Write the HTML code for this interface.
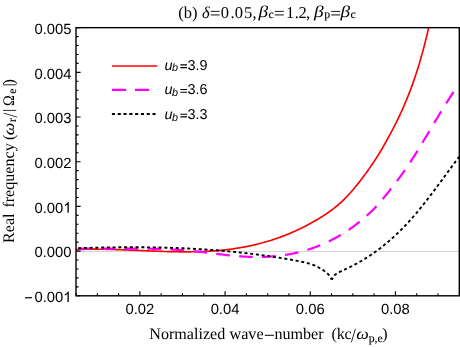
<!DOCTYPE html>
<html><head><meta charset="utf-8"><title>plot</title>
<style>
html,body{margin:0;padding:0;background:#fff;}
svg{display:block;opacity:0.999;will-change:transform;}
text{fill:#000;text-rendering:geometricPrecision;}
.se{font-family:"Liberation Serif", serif;font-size:16.5px;}
.si{font-family:"Liberation Serif", serif;font-size:16.5px;font-style:italic;}
.ss{font-family:"Liberation Serif", serif;font-size:11.8px;stroke:#000;stroke-width:0.12px;}
.sx{font-family:"Liberation Serif", serif;font-size:16.1px;}
.sxi{font-family:"Liberation Serif", serif;font-size:16.1px;font-style:italic;}
.sa{font-family:"Liberation Sans", sans-serif;font-size:14.8px;}
.lg{font-family:"Liberation Sans", sans-serif;font-size:14.4px;}
.li{font-family:"Liberation Sans", sans-serif;font-size:14.4px;font-style:italic;}
.ls{font-family:"Liberation Sans", sans-serif;font-size:10.8px;font-style:italic;}
</style></head><body>
<svg width="460" height="347" viewBox="0 0 460 347">
<rect width="460" height="347" fill="#fff"/>
<defs><clipPath id="c"><rect x="76.0" y="27.67" width="383.3" height="268.13"/></clipPath></defs>
<path d="M76.0,251.5H459.3" stroke="#d4d4d4" stroke-width="1" fill="none"/>
<g clip-path="url(#c)" fill="none">
<path d="M76.00,249.58 L76.89,249.54 L77.78,249.51 L78.68,249.47 L79.57,249.44 L80.46,249.41 L81.35,249.38 L82.25,249.36 L83.14,249.33 L84.03,249.31 L84.92,249.29 L85.81,249.27 L86.71,249.26 L87.60,249.24 L88.49,249.23 L89.38,249.22 L90.28,249.21 L91.17,249.20 L92.06,249.20 L92.95,249.19 L93.84,249.19 L94.74,249.19 L95.63,249.19 L96.52,249.19 L97.41,249.20 L98.31,249.20 L99.20,249.21 L100.09,249.22 L100.98,249.23 L101.87,249.24 L102.77,249.25 L103.66,249.26 L104.55,249.28 L105.44,249.29 L106.34,249.31 L107.23,249.33 L108.12,249.35 L109.01,249.37 L109.90,249.39 L110.80,249.41 L111.69,249.43 L112.58,249.46 L113.47,249.48 L114.37,249.51 L115.26,249.53 L116.15,249.56 L117.04,249.59 L117.93,249.62 L118.83,249.65 L119.72,249.68 L120.61,249.71 L121.50,249.75 L122.40,249.78 L123.29,249.81 L124.18,249.85 L125.07,249.88 L125.96,249.92 L126.86,249.95 L127.75,249.99 L128.64,250.02 L129.53,250.06 L130.43,250.10 L131.32,250.14 L132.21,250.17 L133.10,250.21 L133.99,250.25 L134.89,250.29 L135.78,250.33 L136.67,250.37 L137.56,250.41 L138.46,250.44 L139.35,250.48 L140.24,250.52 L141.13,250.56 L142.03,250.60 L142.92,250.64 L143.81,250.68 L144.70,250.72 L145.59,250.76 L146.49,250.80 L147.38,250.83 L148.27,250.87 L149.16,250.91 L150.06,250.95 L150.95,250.98 L151.84,251.02 L152.73,251.06 L153.62,251.09 L154.52,251.13 L155.41,251.16 L156.30,251.20 L157.19,251.23 L158.09,251.26 L158.98,251.30 L159.87,251.33 L160.76,251.36 L161.65,251.39 L162.55,251.42 L163.44,251.45 L164.33,251.48 L165.22,251.51 L166.12,251.53 L167.01,251.56 L167.90,251.58 L168.79,251.61 L169.68,251.63 L170.58,251.65 L171.47,251.67 L172.36,251.69 L173.25,251.71 L174.15,251.73 L175.04,251.74 L175.93,251.76 L176.82,251.77 L177.71,251.79 L178.61,251.80 L179.50,251.81 L180.39,251.82 L181.28,251.82 L182.18,251.83 L183.07,251.83 L183.96,251.84 L184.85,251.84 L185.74,251.84 L186.64,251.84 L187.53,251.83 L188.42,251.83 L189.31,251.82 L190.21,251.81 L191.10,251.80 L191.99,251.79 L192.88,251.78 L193.77,251.76 L194.67,251.74 L195.56,251.73 L196.45,251.70 L197.34,251.68 L198.24,251.66 L199.13,251.63 L200.02,251.60 L200.91,251.57 L201.80,251.54 L202.70,251.50 L203.59,251.46 L204.48,251.43 L205.37,251.38 L206.27,251.34 L207.16,251.29 L208.05,251.25 L208.94,251.19 L209.83,251.14 L210.73,251.09 L211.62,251.03 L212.51,250.97 L213.40,250.90 L214.30,250.84 L215.19,250.77 L216.08,250.70 L216.97,250.63 L217.86,250.55 L218.76,250.47 L219.65,250.39 L220.54,250.31 L221.43,250.22 L222.33,250.13 L223.22,250.04 L224.11,249.95 L225.00,249.85 L225.89,249.75 L226.79,249.64 L227.68,249.54 L228.57,249.43 L229.46,249.31 L230.36,249.20 L231.25,249.08 L232.14,248.96 L233.03,248.83 L233.92,248.70 L234.82,248.57 L235.71,248.44 L236.60,248.30 L237.49,248.16 L238.39,248.02 L239.28,247.87 L240.17,247.72 L241.06,247.56 L241.95,247.41 L242.85,247.24 L243.74,247.08 L244.63,246.91 L245.52,246.74 L246.42,246.57 L247.31,246.39 L248.20,246.21 L249.09,246.02 L249.98,245.83 L250.88,245.64 L251.77,245.45 L252.66,245.25 L253.55,245.04 L254.45,244.84 L255.34,244.63 L256.23,244.41 L257.12,244.19 L258.02,243.97 L258.91,243.75 L259.80,243.52 L260.69,243.28 L261.58,243.05 L262.48,242.81 L263.37,242.56 L264.26,242.31 L265.15,242.06 L266.05,241.80 L266.94,241.54 L267.83,241.28 L268.72,241.01 L269.61,240.73 L270.51,240.46 L271.40,240.17 L272.29,239.89 L273.18,239.60 L274.08,239.31 L274.97,239.01 L275.86,238.70 L276.75,238.40 L277.64,238.09 L278.54,237.77 L279.43,237.45 L280.32,237.13 L281.21,236.80 L282.11,236.46 L283.00,236.13 L283.89,235.78 L284.78,235.44 L285.67,235.09 L286.57,234.73 L287.46,234.37 L288.35,234.01 L289.24,233.64 L290.14,233.26 L291.03,232.88 L291.92,232.50 L292.81,232.11 L293.70,231.72 L294.60,231.32 L295.49,230.92 L296.38,230.51 L297.27,230.10 L298.17,229.68 L299.06,229.26 L299.95,228.83 L300.84,228.40 L301.73,227.96 L302.63,227.52 L303.52,227.07 L304.41,226.62 L305.30,226.16 L306.20,225.70 L307.09,225.23 L307.98,224.76 L308.87,224.28 L309.76,223.80 L310.66,223.31 L311.55,222.82 L312.44,222.32 L313.33,221.82 L314.23,221.31 L315.12,220.79 L316.01,220.27 L316.90,219.75 L317.79,219.22 L318.69,218.68 L319.58,218.14 L320.47,217.59 L321.36,217.04 L322.26,216.48 L323.15,215.91 L324.04,215.34 L324.93,214.76 L325.82,214.17 L326.72,213.57 L327.61,212.96 L328.50,212.34 L329.39,211.72 L330.29,211.08 L331.18,210.43 L332.07,209.76 L332.96,209.09 L333.85,208.40 L334.75,207.70 L335.64,206.98 L336.53,206.25 L337.42,205.51 L338.32,204.75 L339.21,203.97 L340.10,203.17 L340.99,202.36 L341.88,201.53 L342.78,200.69 L343.67,199.82 L344.56,198.94 L345.45,198.04 L346.35,197.12 L347.24,196.18 L348.13,195.23 L349.02,194.26 L349.91,193.28 L350.81,192.28 L351.70,191.26 L352.59,190.23 L353.48,189.19 L354.38,188.13 L355.27,187.05 L356.16,185.96 L357.05,184.86 L357.94,183.74 L358.84,182.62 L359.73,181.47 L360.62,180.32 L361.51,179.15 L362.41,177.98 L363.30,176.79 L364.19,175.59 L365.08,174.37 L365.97,173.15 L366.87,171.92 L367.76,170.67 L368.65,169.42 L369.54,168.15 L370.44,166.87 L371.33,165.58 L372.22,164.27 L373.11,162.94 L374.01,161.60 L374.90,160.25 L375.79,158.88 L376.68,157.49 L377.57,156.08 L378.47,154.65 L379.36,153.20 L380.25,151.74 L381.14,150.25 L382.04,148.74 L382.93,147.21 L383.82,145.65 L384.71,144.08 L385.60,142.49 L386.50,140.89 L387.39,139.27 L388.28,137.63 L389.17,135.98 L390.07,134.32 L390.96,132.65 L391.85,130.97 L392.74,129.27 L393.63,127.55 L394.53,125.81 L395.42,124.06 L396.31,122.28 L397.20,120.48 L398.10,118.65 L398.99,116.80 L399.88,114.91 L400.77,113.00 L401.66,111.06 L402.56,109.08 L403.45,107.07 L404.34,105.02 L405.23,102.93 L406.13,100.80 L407.02,98.63 L407.91,96.42 L408.80,94.16 L409.69,91.85 L410.59,89.50 L411.48,87.09 L412.37,84.64 L413.26,82.13 L414.16,79.56 L415.05,76.94 L415.94,74.26 L416.83,71.52 L417.72,68.72 L418.62,65.85 L419.51,62.91 L420.40,59.89 L421.29,56.80 L422.19,53.62 L423.08,50.35 L423.97,47.00 L424.86,43.55 L425.75,40.01 L426.65,36.36 L427.54,32.61 L428.43,28.74 L429.32,24.76 L430.22,20.67 L431.11,16.45 L432.00,12.11" stroke="#ff0000" stroke-width="1.65"/>
<path d="M76.00,248.53 L76.96,248.54 L77.92,248.56 L78.88,248.57 L79.84,248.59 L80.80,248.60 L81.76,248.61 L82.72,248.62 L83.69,248.63 L84.65,248.64 L85.61,248.65 L86.57,248.66 L87.53,248.67 L88.49,248.67 L89.45,248.68 L90.41,248.68 L91.37,248.68 L92.33,248.69 L93.29,248.69 L94.25,248.69 L95.21,248.69 L96.17,248.69 L97.13,248.69 L98.09,248.69 L99.06,248.69 L100.02,248.69 L100.98,248.69 L101.94,248.69 L102.90,248.68 L103.86,248.68 L104.82,248.68 L105.78,248.68 L106.74,248.67 L107.70,248.67 L108.66,248.67 L109.62,248.66 L110.58,248.66 L111.54,248.65 L112.50,248.65 L113.47,248.64 L114.43,248.64 L115.39,248.64 L116.35,248.63 L117.31,248.63 L118.27,248.62 L119.23,248.62 L120.19,248.62 L121.15,248.61 L122.11,248.61 L123.07,248.61 L124.03,248.61 L124.99,248.60 L125.95,248.60 L126.91,248.60 L127.88,248.60 L128.84,248.60 L129.80,248.60 L130.76,248.60 L131.72,248.60 L132.68,248.60 L133.64,248.60 L134.60,248.61 L135.56,248.61 L136.52,248.61 L137.48,248.62 L138.44,248.62 L139.40,248.63 L140.36,248.64 L141.32,248.64 L142.28,248.65 L143.25,248.66 L144.21,248.67 L145.17,248.69 L146.13,248.70 L147.09,248.71 L148.05,248.73 L149.01,248.74 L149.97,248.76 L150.93,248.77 L151.89,248.79 L152.85,248.81 L153.81,248.83 L154.77,248.86 L155.73,248.88 L156.69,248.91 L157.66,248.93 L158.62,248.96 L159.58,248.99 L160.54,249.02 L161.50,249.05 L162.46,249.08 L163.42,249.12 L164.38,249.16 L165.34,249.19 L166.30,249.23 L167.26,249.27 L168.22,249.32 L169.18,249.36 L170.14,249.41 L171.10,249.45 L172.07,249.50 L173.03,249.56 L173.99,249.61 L174.95,249.66 L175.91,249.72 L176.87,249.78 L177.83,249.84 L178.79,249.90 L179.75,249.97 L180.71,250.03 L181.67,250.10 L182.63,250.17 L183.59,250.24 L184.55,250.32 L185.51,250.40 L186.47,250.48 L187.44,250.56 L188.40,250.64 L189.36,250.73 L190.32,250.82 L191.28,250.91 L192.24,251.00 L193.20,251.09 L194.16,251.19 L195.12,251.29 L196.08,251.39 L197.04,251.50 L198.00,251.61 L198.96,251.71 L199.92,251.82 L200.88,251.93 L201.85,252.05 L202.81,252.16 L203.77,252.28 L204.73,252.39 L205.69,252.51 L206.65,252.63 L207.61,252.74 L208.57,252.86 L209.53,252.98 L210.49,253.10 L211.45,253.22 L212.41,253.34 L213.37,253.46 L214.33,253.58 L215.29,253.70 L216.26,253.82 L217.22,253.94 L218.18,254.06 L219.14,254.18 L220.10,254.30 L221.06,254.41 L222.02,254.53 L222.98,254.64 L223.94,254.75 L224.90,254.86 L225.86,254.97 L226.82,255.08 L227.78,255.18 L228.74,255.29 L229.70,255.39 L230.66,255.49 L231.63,255.58 L232.59,255.68 L233.55,255.77 L234.51,255.86 L235.47,255.95 L236.43,256.03 L237.39,256.11 L238.35,256.19 L239.31,256.26 L240.27,256.33 L241.23,256.40 L242.19,256.46 L243.15,256.53 L244.11,256.58 L245.07,256.63 L246.04,256.68 L247.00,256.73 L247.96,256.77 L248.92,256.81 L249.88,256.84 L250.84,256.87 L251.80,256.90 L252.76,256.92 L253.72,256.94 L254.68,256.96 L255.64,256.97 L256.60,256.97 L257.56,256.97 L258.52,256.97 L259.48,256.96 L260.45,256.95 L261.41,256.93 L262.37,256.91 L263.33,256.89 L264.29,256.86 L265.25,256.82 L266.21,256.78 L267.17,256.74 L268.13,256.69 L269.09,256.63 L270.05,256.57 L271.01,256.51 L271.97,256.44 L272.93,256.36 L273.89,256.28 L274.85,256.20 L275.82,256.11 L276.78,256.01 L277.74,255.91 L278.70,255.81 L279.66,255.69 L280.62,255.58 L281.58,255.45 L282.54,255.32 L283.50,255.19 L284.46,255.05 L285.42,254.90 L286.38,254.75 L287.34,254.59 L288.30,254.43 L289.26,254.26 L290.23,254.08 L291.19,253.90 L292.15,253.71 L293.11,253.52 L294.07,253.32 L295.03,253.11 L295.99,252.89 L296.95,252.67 L297.91,252.45 L298.87,252.21 L299.83,251.98 L300.79,251.73 L301.75,251.48 L302.71,251.22 L303.67,250.95 L304.64,250.68 L305.60,250.40 L306.56,250.11 L307.52,249.81 L308.48,249.51 L309.44,249.20 L310.40,248.89 L311.36,248.56 L312.32,248.23 L313.28,247.90 L314.24,247.55 L315.20,247.20 L316.16,246.84 L317.12,246.47 L318.08,246.10 L319.04,245.71 L320.01,245.32 L320.97,244.93 L321.93,244.52 L322.89,244.11 L323.85,243.68 L324.81,243.26 L325.77,242.82 L326.73,242.37 L327.69,241.92 L328.65,241.46 L329.61,240.99 L330.57,240.51 L331.53,240.02 L332.49,239.53 L333.45,239.02 L334.42,238.51 L335.38,237.99 L336.34,237.46 L337.30,236.92 L338.26,236.37 L339.22,235.82 L340.18,235.25 L341.14,234.68 L342.10,234.09 L343.06,233.50 L344.02,232.90 L344.98,232.28 L345.94,231.66 L346.90,231.03 L347.86,230.39 L348.83,229.74 L349.79,229.08 L350.75,228.41 L351.71,227.73 L352.67,227.04 L353.63,226.34 L354.59,225.63 L355.55,224.91 L356.51,224.18 L357.47,223.43 L358.43,222.68 L359.39,221.92 L360.35,221.15 L361.31,220.36 L362.27,219.57 L363.23,218.76 L364.20,217.94 L365.16,217.10 L366.12,216.26 L367.08,215.39 L368.04,214.52 L369.00,213.63 L369.96,212.72 L370.92,211.80 L371.88,210.86 L372.84,209.91 L373.80,208.93 L374.76,207.94 L375.72,206.93 L376.68,205.91 L377.64,204.86 L378.61,203.80 L379.57,202.71 L380.53,201.61 L381.49,200.50 L382.45,199.37 L383.41,198.23 L384.37,197.07 L385.33,195.90 L386.29,194.72 L387.25,193.53 L388.21,192.33 L389.17,191.12 L390.13,189.90 L391.09,188.67 L392.05,187.44 L393.02,186.20 L393.98,184.96 L394.94,183.70 L395.90,182.44 L396.86,181.16 L397.82,179.88 L398.78,178.59 L399.74,177.29 L400.70,175.97 L401.66,174.65 L402.62,173.31 L403.58,171.96 L404.54,170.60 L405.50,169.22 L406.46,167.83 L407.42,166.43 L408.39,165.01 L409.35,163.58 L410.31,162.13 L411.27,160.66 L412.23,159.18 L413.19,157.69 L414.15,156.18 L415.11,154.66 L416.07,153.12 L417.03,151.58 L417.99,150.02 L418.95,148.46 L419.91,146.88 L420.87,145.30 L421.83,143.71 L422.80,142.12 L423.76,140.52 L424.72,138.91 L425.68,137.30 L426.64,135.69 L427.60,134.07 L428.56,132.45 L429.52,130.83 L430.48,129.22 L431.44,127.60 L432.40,125.98 L433.36,124.37 L434.32,122.76 L435.28,121.15 L436.24,119.55 L437.21,117.95 L438.17,116.35 L439.13,114.77 L440.09,113.19 L441.05,111.61 L442.01,110.05 L442.97,108.49 L443.93,106.94 L444.89,105.40 L445.85,103.87 L446.81,102.35 L447.77,100.84 L448.73,99.34 L449.69,97.85 L450.65,96.37 L451.61,94.91 L452.58,93.46 L453.54,92.02 L454.50,90.60 L455.46,89.19 L456.42,87.79" stroke="#ff00ff" stroke-width="2.2" stroke-dasharray="13.65 9.35" stroke-dashoffset="-2.5"/>
<path d="M76.00,248.31 L76.64,248.28 L77.28,248.26 L77.92,248.24 L78.56,248.22 L79.20,248.20 L79.85,248.18 L80.49,248.15 L81.13,248.13 L81.77,248.11 L82.41,248.09 L83.05,248.07 L83.69,248.05 L84.33,248.03 L84.97,248.01 L85.61,247.99 L86.25,247.98 L86.89,247.96 L87.54,247.94 L88.18,247.92 L88.82,247.90 L89.46,247.88 L90.10,247.87 L90.74,247.85 L91.38,247.83 L92.02,247.81 L92.66,247.80 L93.30,247.78 L93.94,247.76 L94.58,247.75 L95.23,247.73 L95.87,247.72 L96.51,247.70 L97.15,247.69 L97.79,247.67 L98.43,247.66 L99.07,247.64 L99.71,247.63 L100.35,247.61 L100.99,247.60 L101.63,247.59 L102.27,247.57 L102.92,247.56 L103.56,247.55 L104.20,247.53 L104.84,247.52 L105.48,247.51 L106.12,247.50 L106.76,247.49 L107.40,247.47 L108.04,247.46 L108.68,247.45 L109.32,247.44 L109.97,247.43 L110.61,247.42 L111.25,247.41 L111.89,247.40 L112.53,247.39 L113.17,247.39 L113.81,247.38 L114.45,247.37 L115.09,247.36 L115.73,247.35 L116.37,247.34 L117.01,247.34 L117.66,247.33 L118.30,247.32 L118.94,247.32 L119.58,247.31 L120.22,247.30 L120.86,247.30 L121.50,247.29 L122.14,247.29 L122.78,247.28 L123.42,247.28 L124.06,247.28 L124.70,247.27 L125.35,247.27 L125.99,247.26 L126.63,247.26 L127.27,247.26 L127.91,247.26 L128.55,247.25 L129.19,247.25 L129.83,247.25 L130.47,247.25 L131.11,247.25 L131.75,247.25 L132.39,247.25 L133.04,247.25 L133.68,247.25 L134.32,247.25 L134.96,247.25 L135.60,247.25 L136.24,247.25 L136.88,247.25 L137.52,247.26 L138.16,247.26 L138.80,247.26 L139.44,247.26 L140.09,247.27 L140.73,247.27 L141.37,247.28 L142.01,247.28 L142.65,247.28 L143.29,247.29 L143.93,247.29 L144.57,247.30 L145.21,247.31 L145.85,247.31 L146.49,247.32 L147.13,247.33 L147.78,247.33 L148.42,247.34 L149.06,247.35 L149.70,247.36 L150.34,247.37 L150.98,247.38 L151.62,247.38 L152.26,247.39 L152.90,247.40 L153.54,247.42 L154.18,247.43 L154.82,247.44 L155.47,247.45 L156.11,247.46 L156.75,247.47 L157.39,247.48 L158.03,247.50 L158.67,247.51 L159.31,247.52 L159.95,247.54 L160.59,247.55 L161.23,247.57 L161.87,247.58 L162.52,247.60 L163.16,247.61 L163.80,247.63 L164.44,247.65 L165.08,247.66 L165.72,247.68 L166.36,247.70 L167.00,247.72 L167.64,247.73 L168.28,247.75 L168.92,247.77 L169.56,247.79 L170.21,247.81 L170.85,247.83 L171.49,247.85 L172.13,247.87 L172.77,247.89 L173.41,247.92 L174.05,247.94 L174.69,247.96 L175.33,247.98 L175.97,248.01 L176.61,248.03 L177.25,248.05 L177.90,248.08 L178.54,248.10 L179.18,248.13 L179.82,248.15 L180.46,248.18 L181.10,248.21 L181.74,248.23 L182.38,248.26 L183.02,248.29 L183.66,248.32 L184.30,248.34 L184.94,248.37 L185.59,248.40 L186.23,248.43 L186.87,248.46 L187.51,248.49 L188.15,248.52 L188.79,248.56 L189.43,248.59 L190.07,248.62 L190.71,248.65 L191.35,248.68 L191.99,248.72 L192.64,248.75 L193.28,248.79 L193.92,248.82 L194.56,248.86 L195.20,248.89 L195.84,248.93 L196.48,248.96 L197.12,249.00 L197.76,249.04 L198.40,249.08 L199.04,249.11 L199.68,249.15 L200.33,249.19 L200.97,249.23 L201.61,249.27 L202.25,249.31 L202.89,249.35 L203.53,249.39 L204.17,249.43 L204.81,249.48 L205.45,249.52 L206.09,249.56 L206.73,249.60 L207.37,249.65 L208.02,249.69 L208.66,249.74 L209.30,249.78 L209.94,249.83 L210.58,249.87 L211.22,249.92 L211.86,249.97 L212.50,250.02 L213.14,250.06 L213.78,250.11 L214.42,250.16 L215.06,250.21 L215.71,250.26 L216.35,250.31 L216.99,250.36 L217.63,250.41 L218.27,250.46 L218.91,250.52 L219.55,250.57 L220.19,250.62 L220.83,250.67 L221.47,250.73 L222.11,250.78 L222.76,250.84 L223.40,250.89 L224.04,250.95 L224.68,251.01 L225.32,251.06 L225.96,251.12 L226.60,251.18 L227.24,251.24 L227.88,251.30 L228.52,251.36 L229.16,251.42 L229.80,251.48 L230.45,251.54 L231.09,251.60 L231.73,251.66 L232.37,251.72 L233.01,251.78 L233.65,251.85 L234.29,251.91 L234.93,251.98 L235.57,252.04 L236.21,252.11 L236.85,252.17 L237.49,252.24 L238.14,252.31 L238.78,252.37 L239.42,252.44 L240.06,252.51 L240.70,252.58 L241.34,252.65 L241.98,252.72 L242.62,252.79 L243.26,252.86 L243.90,252.93 L244.54,253.00 L245.18,253.08 L245.83,253.15 L246.47,253.22 L247.11,253.30 L247.75,253.37 L248.39,253.45 L249.03,253.52 L249.67,253.60 L250.31,253.67 L250.95,253.75 L251.59,253.83 L252.23,253.91 L252.88,253.99 L253.52,254.07 L254.16,254.15 L254.80,254.23 L255.44,254.31 L256.08,254.39 L256.72,254.47 L257.36,254.55 L258.00,254.64 L258.64,254.72 L259.28,254.81 L259.92,254.89 L260.57,254.98 L261.21,255.06 L261.85,255.15 L262.49,255.24 L263.13,255.32 L263.77,255.41 L264.41,255.50 L265.05,255.59 L265.69,255.68 L266.33,255.77 L266.97,255.86 L267.61,255.95 L268.26,256.05 L268.90,256.14 L269.54,256.23 L270.18,256.33 L270.82,256.42 L271.46,256.52 L272.10,256.61 L272.74,256.71 L273.38,256.80 L274.02,256.90 L274.66,257.00 L275.31,257.10 L275.95,257.20 L276.59,257.30 L277.23,257.40 L277.87,257.50 L278.51,257.60 L279.15,257.70 L279.79,257.80 L280.43,257.91 L281.07,258.01 L281.71,258.12 L282.35,258.22 L283.00,258.33 L283.64,258.43 L284.28,258.54 L284.92,258.65 L285.56,258.76 L286.20,258.86 L286.84,258.97 L287.48,259.08 L288.12,259.19 L288.76,259.30 L289.40,259.42 L290.04,259.53 L290.69,259.64 L291.33,259.75 L291.97,259.87 L292.61,259.98 L293.25,260.10 L293.89,260.22 L294.53,260.33 L295.17,260.45 L295.81,260.57 L296.45,260.69 L297.09,260.81 L297.73,260.94 L298.38,261.06 L299.02,261.19 L299.66,261.32 L300.30,261.45 L300.94,261.58 L301.58,261.72 L302.22,261.85 L302.86,261.99 L303.50,262.14 L304.14,262.28 L304.78,262.43 L305.43,262.59 L306.07,262.75 L306.71,262.91 L307.35,263.08 L307.99,263.25 L308.63,263.44 L309.27,263.62 L309.91,263.82 L310.55,264.03 L311.19,264.24 L311.83,264.46 L312.47,264.69 L313.12,264.93 L313.76,265.19 L314.40,265.45 L315.04,265.73 L315.68,266.01 L316.32,266.31 L316.96,266.62 L317.60,266.95 L318.24,267.28 L318.88,267.62 L319.52,267.98 L320.16,268.35 L320.81,268.72 L321.45,269.11 L322.09,269.51 L322.73,269.91 L323.37,270.33 L324.01,270.75 L324.65,271.18 L325.29,271.63 L325.93,272.11 L326.57,272.62 L327.21,273.19 L327.85,273.83 L328.50,274.54 L329.14,275.34 L329.78,276.24 L330.42,277.25 L331.06,278.39 L331.70,279.67" stroke="#000" stroke-width="1.9" stroke-dasharray="3.05 2.693" stroke-dashoffset="-2.15"/>
<path d="M331.70,279.71 L332.02,279.36 L332.34,278.81 L332.66,278.13 L332.98,277.42 L333.30,276.76 L333.62,276.22 L333.94,275.77 L334.26,275.41 L334.58,275.10 L334.90,274.85 L335.22,274.62 L335.54,274.40 L335.86,274.18 L336.18,273.97 L336.50,273.77 L336.82,273.57 L337.14,273.37 L337.46,273.18 L337.78,272.99 L338.10,272.81 L338.42,272.63 L338.74,272.45 L339.06,272.28 L339.38,272.11 L339.69,271.94 L340.01,271.77 L340.33,271.61 L340.65,271.45 L340.97,271.29 L341.29,271.14 L341.61,270.98 L341.93,270.83 L342.25,270.68 L342.57,270.53 L342.89,270.38 L343.21,270.23 L343.53,270.08 L343.85,269.93 L344.17,269.79 L344.49,269.64 L344.81,269.49 L345.13,269.35 L345.45,269.20 L345.77,269.05 L346.09,268.90 L346.41,268.75 L346.73,268.60 L347.05,268.45 L347.37,268.30 L347.69,268.15 L348.01,267.99 L348.33,267.84 L348.65,267.68 L348.97,267.53 L349.29,267.37 L349.61,267.22 L349.93,267.06 L350.25,266.90 L350.57,266.74 L350.89,266.58 L351.21,266.42 L351.53,266.26 L351.85,266.10 L352.17,265.93 L352.49,265.77 L352.81,265.61 L353.13,265.44 L353.45,265.28 L353.77,265.11 L354.09,264.94 L354.41,264.77 L354.73,264.60 L355.05,264.43 L355.37,264.26 L355.68,264.09 L356.00,263.92 L356.32,263.75 L356.64,263.57 L356.96,263.40 L357.28,263.22 L357.60,263.05 L357.92,262.87 L358.24,262.69 L358.56,262.51 L358.88,262.33 L359.20,262.15 L359.52,261.97 L359.84,261.79 L360.16,261.60 L360.48,261.42 L360.80,261.23 L361.12,261.05 L361.44,260.86 L361.76,260.67 L362.08,260.48 L362.40,260.29 L362.72,260.10 L363.04,259.91 L363.36,259.72 L363.68,259.53 L364.00,259.33 L364.32,259.14 L364.64,258.94 L364.96,258.75 L365.28,258.55 L365.60,258.35 L365.92,258.15 L366.24,257.95 L366.56,257.75 L366.88,257.55 L367.20,257.34 L367.52,257.14 L367.84,256.93 L368.16,256.73 L368.48,256.52 L368.80,256.31 L369.12,256.10 L369.44,255.89 L369.76,255.68 L370.08,255.47 L370.40,255.26 L370.72,255.04 L371.04,254.83 L371.36,254.61 L371.67,254.39 L371.99,254.18 L372.31,253.96 L372.63,253.74 L372.95,253.52 L373.27,253.29 L373.59,253.07 L373.91,252.85 L374.23,252.62 L374.55,252.39 L374.87,252.17 L375.19,251.94 L375.51,251.71 L375.83,251.48 L376.15,251.25 L376.47,251.02 L376.79,250.78 L377.11,250.55 L377.43,250.31 L377.75,250.08 L378.07,249.84 L378.39,249.60 L378.71,249.36 L379.03,249.12 L379.35,248.88 L379.67,248.63 L379.99,248.39 L380.31,248.14 L380.63,247.90 L380.95,247.65 L381.27,247.40 L381.59,247.15 L381.91,246.90 L382.23,246.65 L382.55,246.40 L382.87,246.15 L383.19,245.89 L383.51,245.63 L383.83,245.38 L384.15,245.12 L384.47,244.86 L384.79,244.60 L385.11,244.34 L385.43,244.08 L385.75,243.81 L386.07,243.55 L386.39,243.28 L386.71,243.02 L387.03,242.75 L387.35,242.48 L387.66,242.21 L387.98,241.94 L388.30,241.66 L388.62,241.39 L388.94,241.12 L389.26,240.84 L389.58,240.56 L389.90,240.29 L390.22,240.01 L390.54,239.73 L390.86,239.44 L391.18,239.16 L391.50,238.88 L391.82,238.59 L392.14,238.31 L392.46,238.02 L392.78,237.73 L393.10,237.44 L393.42,237.15 L393.74,236.86 L394.06,236.56 L394.38,236.27 L394.70,235.97 L395.02,235.68 L395.34,235.38 L395.66,235.08 L395.98,234.78 L396.30,234.48 L396.62,234.18 L396.94,233.87 L397.26,233.57 L397.58,233.26 L397.90,232.95 L398.22,232.65 L398.54,232.34 L398.86,232.03 L399.18,231.71 L399.50,231.40 L399.82,231.09 L400.14,230.77 L400.46,230.45 L400.78,230.13 L401.10,229.81 L401.42,229.49 L401.74,229.17 L402.06,228.85 L402.38,228.52 L402.70,228.20 L403.02,227.87 L403.34,227.54 L403.65,227.21 L403.97,226.88 L404.29,226.55 L404.61,226.22 L404.93,225.89 L405.25,225.55 L405.57,225.21 L405.89,224.88 L406.21,224.54 L406.53,224.20 L406.85,223.85 L407.17,223.51 L407.49,223.17 L407.81,222.82 L408.13,222.47 L408.45,222.13 L408.77,221.78 L409.09,221.43 L409.41,221.07 L409.73,220.72 L410.05,220.37 L410.37,220.01 L410.69,219.65 L411.01,219.29 L411.33,218.93 L411.65,218.57 L411.97,218.21 L412.29,217.85 L412.61,217.48 L412.93,217.12 L413.25,216.75 L413.57,216.38 L413.89,216.01 L414.21,215.64 L414.53,215.27 L414.85,214.89 L415.17,214.52 L415.49,214.14 L415.81,213.76 L416.13,213.38 L416.45,213.00 L416.77,212.62 L417.09,212.24 L417.41,211.86 L417.73,211.47 L418.05,211.09 L418.37,210.70 L418.69,210.31 L419.01,209.92 L419.33,209.53 L419.64,209.14 L419.96,208.75 L420.28,208.36 L420.60,207.96 L420.92,207.57 L421.24,207.17 L421.56,206.78 L421.88,206.38 L422.20,205.98 L422.52,205.58 L422.84,205.18 L423.16,204.78 L423.48,204.37 L423.80,203.97 L424.12,203.56 L424.44,203.16 L424.76,202.75 L425.08,202.35 L425.40,201.94 L425.72,201.53 L426.04,201.12 L426.36,200.71 L426.68,200.30 L427.00,199.89 L427.32,199.47 L427.64,199.06 L427.96,198.65 L428.28,198.23 L428.60,197.82 L428.92,197.40 L429.24,196.98 L429.56,196.57 L429.88,196.15 L430.20,195.73 L430.52,195.31 L430.84,194.89 L431.16,194.47 L431.48,194.05 L431.80,193.63 L432.12,193.20 L432.44,192.78 L432.76,192.36 L433.08,191.93 L433.40,191.51 L433.72,191.09 L434.04,190.66 L434.36,190.23 L434.68,189.81 L435.00,189.38 L435.32,188.95 L435.63,188.53 L435.95,188.10 L436.27,187.67 L436.59,187.24 L436.91,186.81 L437.23,186.38 L437.55,185.95 L437.87,185.52 L438.19,185.09 L438.51,184.66 L438.83,184.23 L439.15,183.80 L439.47,183.37 L439.79,182.94 L440.11,182.50 L440.43,182.07 L440.75,181.64 L441.07,181.21 L441.39,180.77 L441.71,180.34 L442.03,179.91 L442.35,179.47 L442.67,179.04 L442.99,178.61 L443.31,178.17 L443.63,177.74 L443.95,177.31 L444.27,176.87 L444.59,176.44 L444.91,176.00 L445.23,175.57 L445.55,175.14 L445.87,174.70 L446.19,174.27 L446.51,173.83 L446.83,173.40 L447.15,172.97 L447.47,172.53 L447.79,172.10 L448.11,171.66 L448.43,171.23 L448.75,170.80 L449.07,170.36 L449.39,169.93 L449.71,169.50 L450.03,169.06 L450.35,168.63 L450.67,168.20 L450.99,167.76 L451.31,167.33 L451.62,166.90 L451.94,166.47 L452.26,166.04 L452.58,165.61 L452.90,165.17 L453.22,164.74 L453.54,164.31 L453.86,163.88 L454.18,163.45 L454.50,163.02 L454.82,162.59 L455.14,162.17 L455.46,161.74 L455.78,161.31 L456.10,160.88 L456.42,160.45 L456.74,160.03 L457.06,159.60 L457.38,159.18 L457.70,158.75 L458.02,158.33 L458.34,157.90 L458.66,157.48 L458.98,157.05 L459.30,156.63" stroke="#000" stroke-width="1.9" stroke-dasharray="3.05 2.69" stroke-dashoffset="0.79"/>
</g>
<path d="M76.00,295.80h4.6M76.00,286.86h2.6M76.00,277.92h2.6M76.00,268.99h2.6M76.00,260.05h2.6M76.00,251.11h4.6M76.00,242.17h2.6M76.00,233.24h2.6M76.00,224.30h2.6M76.00,215.36h2.6M76.00,206.42h4.6M76.00,197.49h2.6M76.00,188.55h2.6M76.00,179.61h2.6M76.00,170.67h2.6M76.00,161.74h4.6M76.00,152.80h2.6M76.00,143.86h2.6M76.00,134.92h2.6M76.00,125.98h2.6M76.00,117.05h4.6M76.00,108.11h2.6M76.00,99.17h2.6M76.00,90.23h2.6M76.00,81.30h2.6M76.00,72.36h4.6M76.00,63.42h2.6M76.00,54.48h2.6M76.00,45.55h2.6M76.00,36.61h2.6M76.00,27.67h4.6M76.00,295.80v-2.6M97.29,295.80v-2.6M118.59,295.80v-2.6M139.88,295.80v-4.6M161.18,295.80v-2.6M182.47,295.80v-2.6M203.77,295.80v-2.6M225.06,295.80v-4.6M246.36,295.80v-2.6M267.65,295.80v-2.6M288.94,295.80v-2.6M310.24,295.80v-4.6M331.53,295.80v-2.6M352.83,295.80v-2.6M374.12,295.80v-2.6M395.42,295.80v-4.6M416.71,295.80v-2.6M438.01,295.80v-2.6" stroke="#000" stroke-width="1.1" fill="none"/>
<rect x="76.0" y="27.67" width="383.30" height="268.13" stroke="#000" stroke-width="1.4" fill="none"/>
<text class="sa" x="71.5" y="33.97" text-anchor="end">0.005</text>
<text class="sa" x="71.5" y="78.66" text-anchor="end">0.004</text>
<text class="sa" x="71.5" y="123.35" text-anchor="end">0.003</text>
<text class="sa" x="71.5" y="168.04" text-anchor="end">0.002</text>
<text class="sa" x="34.46" y="212.72">0.00</text><path transform="translate(63.27,212.72) scale(14.8)" d="M0.3726,0 L0.2847,0 L0.2847,-0.5601 Q0.2529,-0.5298 0.2014,-0.4995 Q0.1499,-0.4692 0.1089,-0.4541 L0.1089,-0.5391 Q0.1826,-0.5737 0.2378,-0.6230 Q0.2930,-0.6724 0.3159,-0.7188 L0.3726,-0.7188 Z" fill="#000"/>
<text class="sa" x="71.5" y="257.41" text-anchor="end">0.000</text>
<text class="sa" x="34.46" y="302.10">0.00</text><path transform="translate(63.27,302.10) scale(14.8)" d="M0.3726,0 L0.2847,0 L0.2847,-0.5601 Q0.2529,-0.5298 0.2014,-0.4995 Q0.1499,-0.4692 0.1089,-0.4541 L0.1089,-0.5391 Q0.1826,-0.5737 0.2378,-0.6230 Q0.2930,-0.6724 0.3159,-0.7188 L0.3726,-0.7188 Z" fill="#000"/>
<path d="M25.0,297.75H32.0" stroke="#000" stroke-width="1.15" fill="none"/>
<text class="sa" x="139.88" y="313.7" text-anchor="middle">0.02</text>
<text class="sa" x="225.06" y="313.7" text-anchor="middle">0.04</text>
<text class="sa" x="310.24" y="313.7" text-anchor="middle">0.06</text>
<text class="sa" x="395.42" y="313.7" text-anchor="middle">0.08</text>
<path d="M111.9,65.9H157.2" stroke="#ff0000" stroke-width="1.5" fill="none"/>
<path d="M111.9,89.8H157.2" stroke="#ff00ff" stroke-width="2.2" stroke-dasharray="14.2 8.9" fill="none"/>
<path d="M111.9,114H157.2" stroke="#000" stroke-width="1.9" stroke-dasharray="3.1 2.7" fill="none"/>
<text class="li" x="164.6" y="69.70">u</text><text class="ls" x="172.0" y="71.20">b</text><path d="M180.4,64.90H187.0M180.4,67.60H187.0" stroke="#000" stroke-width="1.1" fill="none"/><text class="lg" x="187.4" y="69.70">3.9</text>
<text class="li" x="164.6" y="94.35">u</text><text class="ls" x="172.0" y="95.85">b</text><path d="M180.4,89.55H187.0M180.4,92.25H187.0" stroke="#000" stroke-width="1.1" fill="none"/><text class="lg" x="187.4" y="94.35">3.6</text>
<text class="li" x="164.6" y="119.00">u</text><text class="ls" x="172.0" y="120.50">b</text><path d="M180.4,114.20H187.0M180.4,116.90H187.0" stroke="#000" stroke-width="1.1" fill="none"/><text class="lg" x="187.4" y="119.00">3.3</text>
<text class="se" x="178.3" y="17.5">(b)</text><text class="si" x="202.0" y="17.5">δ</text><path d="M210.8,11.40H219.6" stroke="#000" stroke-width="0.9" fill="none"/><path d="M210.8,14.90H219.6" stroke="#444" stroke-width="1.3" fill="none"/><text class="se" x="220.7" y="17.5">0</text><text class="se" x="230.6" y="17.5">.</text><text class="se" x="234.8" y="17.5">0</text><text class="se" x="244.1" y="17.5">5</text><text class="se" x="252.4" y="17.5">,</text><text class="si" transform="translate(258.6,16.9) scale(1.17,1.0)">β</text><text class="ss" x="268.5" y="18.2">c</text><path d="M274.8,11.40H283.8" stroke="#000" stroke-width="0.9" fill="none"/><path d="M274.8,14.90H283.8" stroke="#444" stroke-width="1.3" fill="none"/><text class="se" x="286.0" y="17.5">1</text><text class="se" x="294.7" y="17.5">.</text><text class="se" x="298.6" y="17.5">2</text><text class="se" x="306.1" y="17.5">,</text><text class="si" transform="translate(313.9,16.9) scale(1.17,1.0)">β</text><text class="ss" x="324.3" y="18.2">p</text><path d="M331.2,11.40H340.2" stroke="#000" stroke-width="0.9" fill="none"/><path d="M331.2,14.90H340.2" stroke="#444" stroke-width="1.3" fill="none"/><text class="si" transform="translate(340.6,16.9) scale(1.17,1.0)">β</text><text class="ss" x="350.6" y="18.2">c</text>
<text class="sx" x="149.3" y="339.2">Normalized</text><text class="sx" x="229.6" y="339.2">wave</text><path d="M264.9,335.30H273.9" stroke="#000" stroke-width="1.0" fill="none"/><text class="sx" x="274.4" y="339.2">number</text><text class="sx" x="331.4" y="339.2">(k</text><text class="sx" x="344.4" y="339.2">c</text><text class="sx" transform="translate(350.9,341.95) scale(1.08,1.26)">/</text><text class="sxi" transform="translate(356.2,339.2) scale(1.1,1.0)">ω</text><text class="ss" x="368.7" y="342.09999999999997">p,e</text><text class="sx" x="382.3" y="339.2">)</text>
<g transform="translate(14.2,243.0) rotate(-90)"><text class="sx" x="0.0" y="0">Real</text><text class="sx" x="35.4" y="0">frequency</text><text class="sx" x="103.0" y="0">(</text><text class="sxi" transform="translate(107.8,0) scale(1.1,1.0)">ω</text><text class="ss" x="121.0" y="2.1">r</text><text class="sx" transform="translate(125.6,2.75) scale(1.08,1.26)">/</text><path d="M132.6,-11.20V2.10" stroke="#222" stroke-width="0.95" fill="none"/><text class="sx" transform="translate(137.1,0) scale(0.9,1.0)">Ω</text><text class="ss" x="149.3" y="1.9">e</text><path d="M158.2,-11.20V2.10" stroke="#222" stroke-width="0.95" fill="none"/><text class="sx" x="158.6" y="0">)</text></g>
</svg>
</body></html>
